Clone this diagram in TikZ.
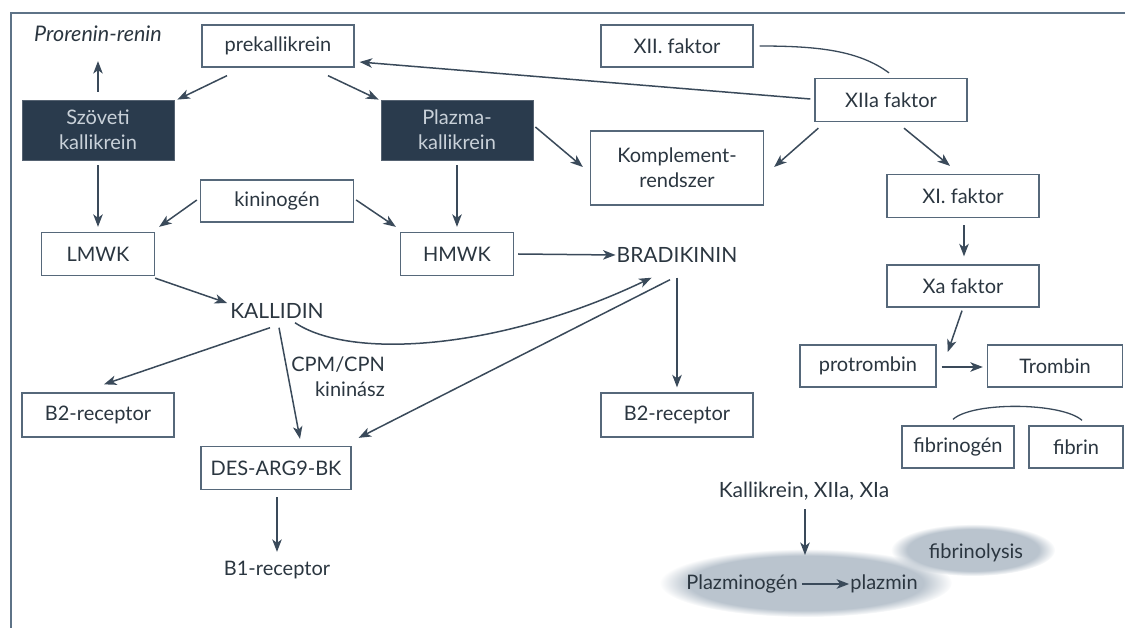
\documentclass[tikz,border=0pt]{standalone}
\usepackage{fontspec}
\setmainfont{Lato}
\usetikzlibrary{arrows.meta,calc,fadings}

\definecolor{ink}{HTML}{2B3640}
\definecolor{edgec}{HTML}{3A4A5A}
\definecolor{boxline}{HTML}{56687A}
\definecolor{navy}{HTML}{2A3B4D}
\definecolor{navytext}{HTML}{C9D1D9}
\definecolor{framec}{HTML}{5E7387}
\definecolor{blob}{HTML}{BAC4CE}

% soft grey patch with a fuzzy rim
\newcommand\softpatch[3]{%
  \fill[blob, path fading=circle with fuzzy edge 20 percent]
    #1 ellipse [x radius=#2, y radius=#3];
}

\begin{document}
\begin{tikzpicture}[x=1pt,y=-1pt,
  every node/.style={font=\fontsize{20}{25}\selectfont, text=ink},
  box/.style={draw=boxline, line width=1.3pt, fill=white, inner sep=0pt,
              minimum height=42pt, align=center},
  darkbox/.style={fill=navy, draw=navy!80!white, line width=0.8pt, text=navytext,
                  inner sep=0pt, minimum width=152pt, minimum height=60pt, align=center},
  lbl/.style={inner sep=1pt},
  arr/.style={draw=edgec, line width=1.5pt, -{Stealth[length=12.5pt,width=9.5pt,inset=3.5pt]}},
  link/.style={draw=edgec, line width=1.3pt},
]
\useasboundingbox (0,0) rectangle (1125,628);

% frame
\draw[draw=framec, line width=2.2pt] (11,640) -- (11,13) -- (1140,13);

% grey patches of the fibrinolysis part
\softpatch{(973,550)}{82}{26}
\softpatch{(806,583)}{146}{34}
\coordinate (cloudtop) at (806,556);

% nodes
\node[lbl, font=\itshape\fontsize{21.5}{25}\selectfont] (pror) at (98,34) {Prorenin-renin};
\node[box, minimum width=152pt] (pre) at (278,46) {prekallikrein};
\node[box, minimum width=152pt] (xii) at (677,46) {XII. faktor};
\node[box, minimum width=152pt, minimum height=43pt] (xiia) at (891,100) {XIIa faktor};
\node[darkbox] (szov) at (98,130) {Szöveti\\kallikrein};
\node[darkbox] (plaz) at (457,130) {Plazma-\\kallikrein};
\node[box, minimum width=173pt, minimum height=74pt] (komp) at (677,168) {Komplement-\\rendszer};
\node[box, minimum width=152pt, minimum height=43pt] (xi) at (963,196) {XI. faktor};
\node[box, minimum width=153pt] (kin) at (277,201) {kininogén};
\node[box, minimum width=113pt, minimum height=43pt] (lmwk) at (98,254) {LMWK};
\node[box, minimum width=113pt, minimum height=43pt] (hmwk) at (457,254) {HMWK};
\node[lbl, font=\fontsize{21}{25}\selectfont] (brad) at (677,255) {BRADIKININ};
\node[lbl, font=\fontsize{21}{25}\selectfont] (kall) at (277,311) {KALLIDIN};
\node[box, minimum width=152pt] (xa) at (963,286) {Xa faktor};
\node[lbl, align=right, anchor=east] (cpm) at (386,377) {CPM/CPN\\kininász};
\node[box, minimum width=152pt, minimum height=44pt] (b2l) at (98,415) {B2-receptor};
\node[box, minimum width=150pt, minimum height=43pt] (des) at (276,468) {DES-ARG9-BK};
\node[box, minimum width=152pt, minimum height=44pt] (b2r) at (677,415) {B2-receptor};
\node[box, minimum width=136pt] (prot) at (868,366) {protrombin};
\node[box, minimum width=135pt] (trom) at (1055,366) {Trombin};
\node[box, minimum width=112pt] (fibg) at (958,447) {fibrinogén};
\node[box, minimum width=94pt] (fibr) at (1076,447) {fibrin};
\node[lbl] (b1) at (277,570) {B1-receptor};
\node[lbl, font=\fontsize{21}{25}\selectfont] (kal) at (804,491) {Kallikrein, XIIa, XIa};
\node[lbl] (plg) at (742,584) {Plazminogén};
\node[lbl] (plm) at (884,584) {plazmin};
\node[lbl] (fib) at (976,553) {fibrinolysis};

% connectors
\draw[arr] ($(szov.north)+(0,-8)$) -- ($(pror.south)+(0,18)$);
\draw[arr] ($(pre.south)+(-51,8)$) -- ($(szov.north east)+(3,0)$);
\draw[arr] ($(pre.south)+(50,8)$) -- ($(plaz.north west)+(-2,0)$);
\draw[arr] ($(xiia.west)+(-4,-1)$) -- ($(pre.east)+(5,16)$);
\draw[link] ($(xii.east)+(6,0)$) .. controls +(60,0) and +(-30,-22) .. ($(xiia.north)+(-2,-5)$);
\draw[arr] ($(plaz.east)+(2,-3)$) -- ($(komp.west)+(-7,-1)$);
\draw[arr] ($(xiia.south west)+(4,6)$) -- ($(komp.east)+(10,-1)$);
\draw[arr] ($(xiia.south)+(13,6)$) -- ($(xi.north)+(-13,-8)$);
\draw[arr] ($(szov.south)+(0,5)$) -- ($(lmwk.north)+(0,-5)$);
\draw[arr] ($(plaz.south)+(0,5)$) -- ($(hmwk.north)+(0,-5)$);
\draw[arr] ($(kin.west)+(-3,-1)$) -- ($(lmwk.north east)+(4,-5)$);
\draw[arr] ($(kin.east)+(2,-1)$) -- ($(hmwk.north west)+(-4,-5)$);
\draw[arr] ($(hmwk.east)+(4,0)$) -- (brad.west);
\draw[arr] ($(lmwk.south east)+(0,2)$) -- ($(kall.west)+(-2,-8)$);
\draw[arr] ($(kall.south)+(-7,8)$) -- ($(b2l.north)+(6,-8)$);
\draw[arr] ($(kall.south)+(2,8)$) -- ($(des.north)+(24,-7)$);
\draw[arr] ($(kall.south)+(18,3)$) .. controls +(55,37) and +(-153,73) .. ($(brad.south west)+(36,14)$);
\draw[arr] ($(brad.south)+(-7,16)$) -- ($(des.north east)+(7,-8)$);
\draw[arr] ($(brad.south)+(0,14)$) -- ($(b2r.north)+(0,-5)$);
\draw[arr] ($(des.south)+(1,7)$) -- ($(b1.north)+(0,-8)$);
\draw[arr] ($(xi.south)+(1,7)$) -- ($(xa.north)+(1,-8)$);
\coordinate (rx) at ($(prot.east)!0.5!(trom.west)$);
\draw[arr] ($(xa.south)+(-1,3)$) -- ($(rx)+(-14,-14)$);
\draw[arr] ($(prot.east)+(5,1)$) -- ($(trom.west)+(-4,1)$);
\draw[link] ($(fibg.north)+(-5,-6)$) .. controls +(20,-18) and +(-20,-18) .. ($(fibr.north)+(6,-5)$);
\draw[arr] ($(kal.south)+(1,8)$) -- ($(kal.south |- cloudtop)+(1,-1)$);
\draw[arr] ($(plg.east)+(3,0)$) -- ($(plm.west)+(0,0)$);
\end{tikzpicture}
\end{document}
